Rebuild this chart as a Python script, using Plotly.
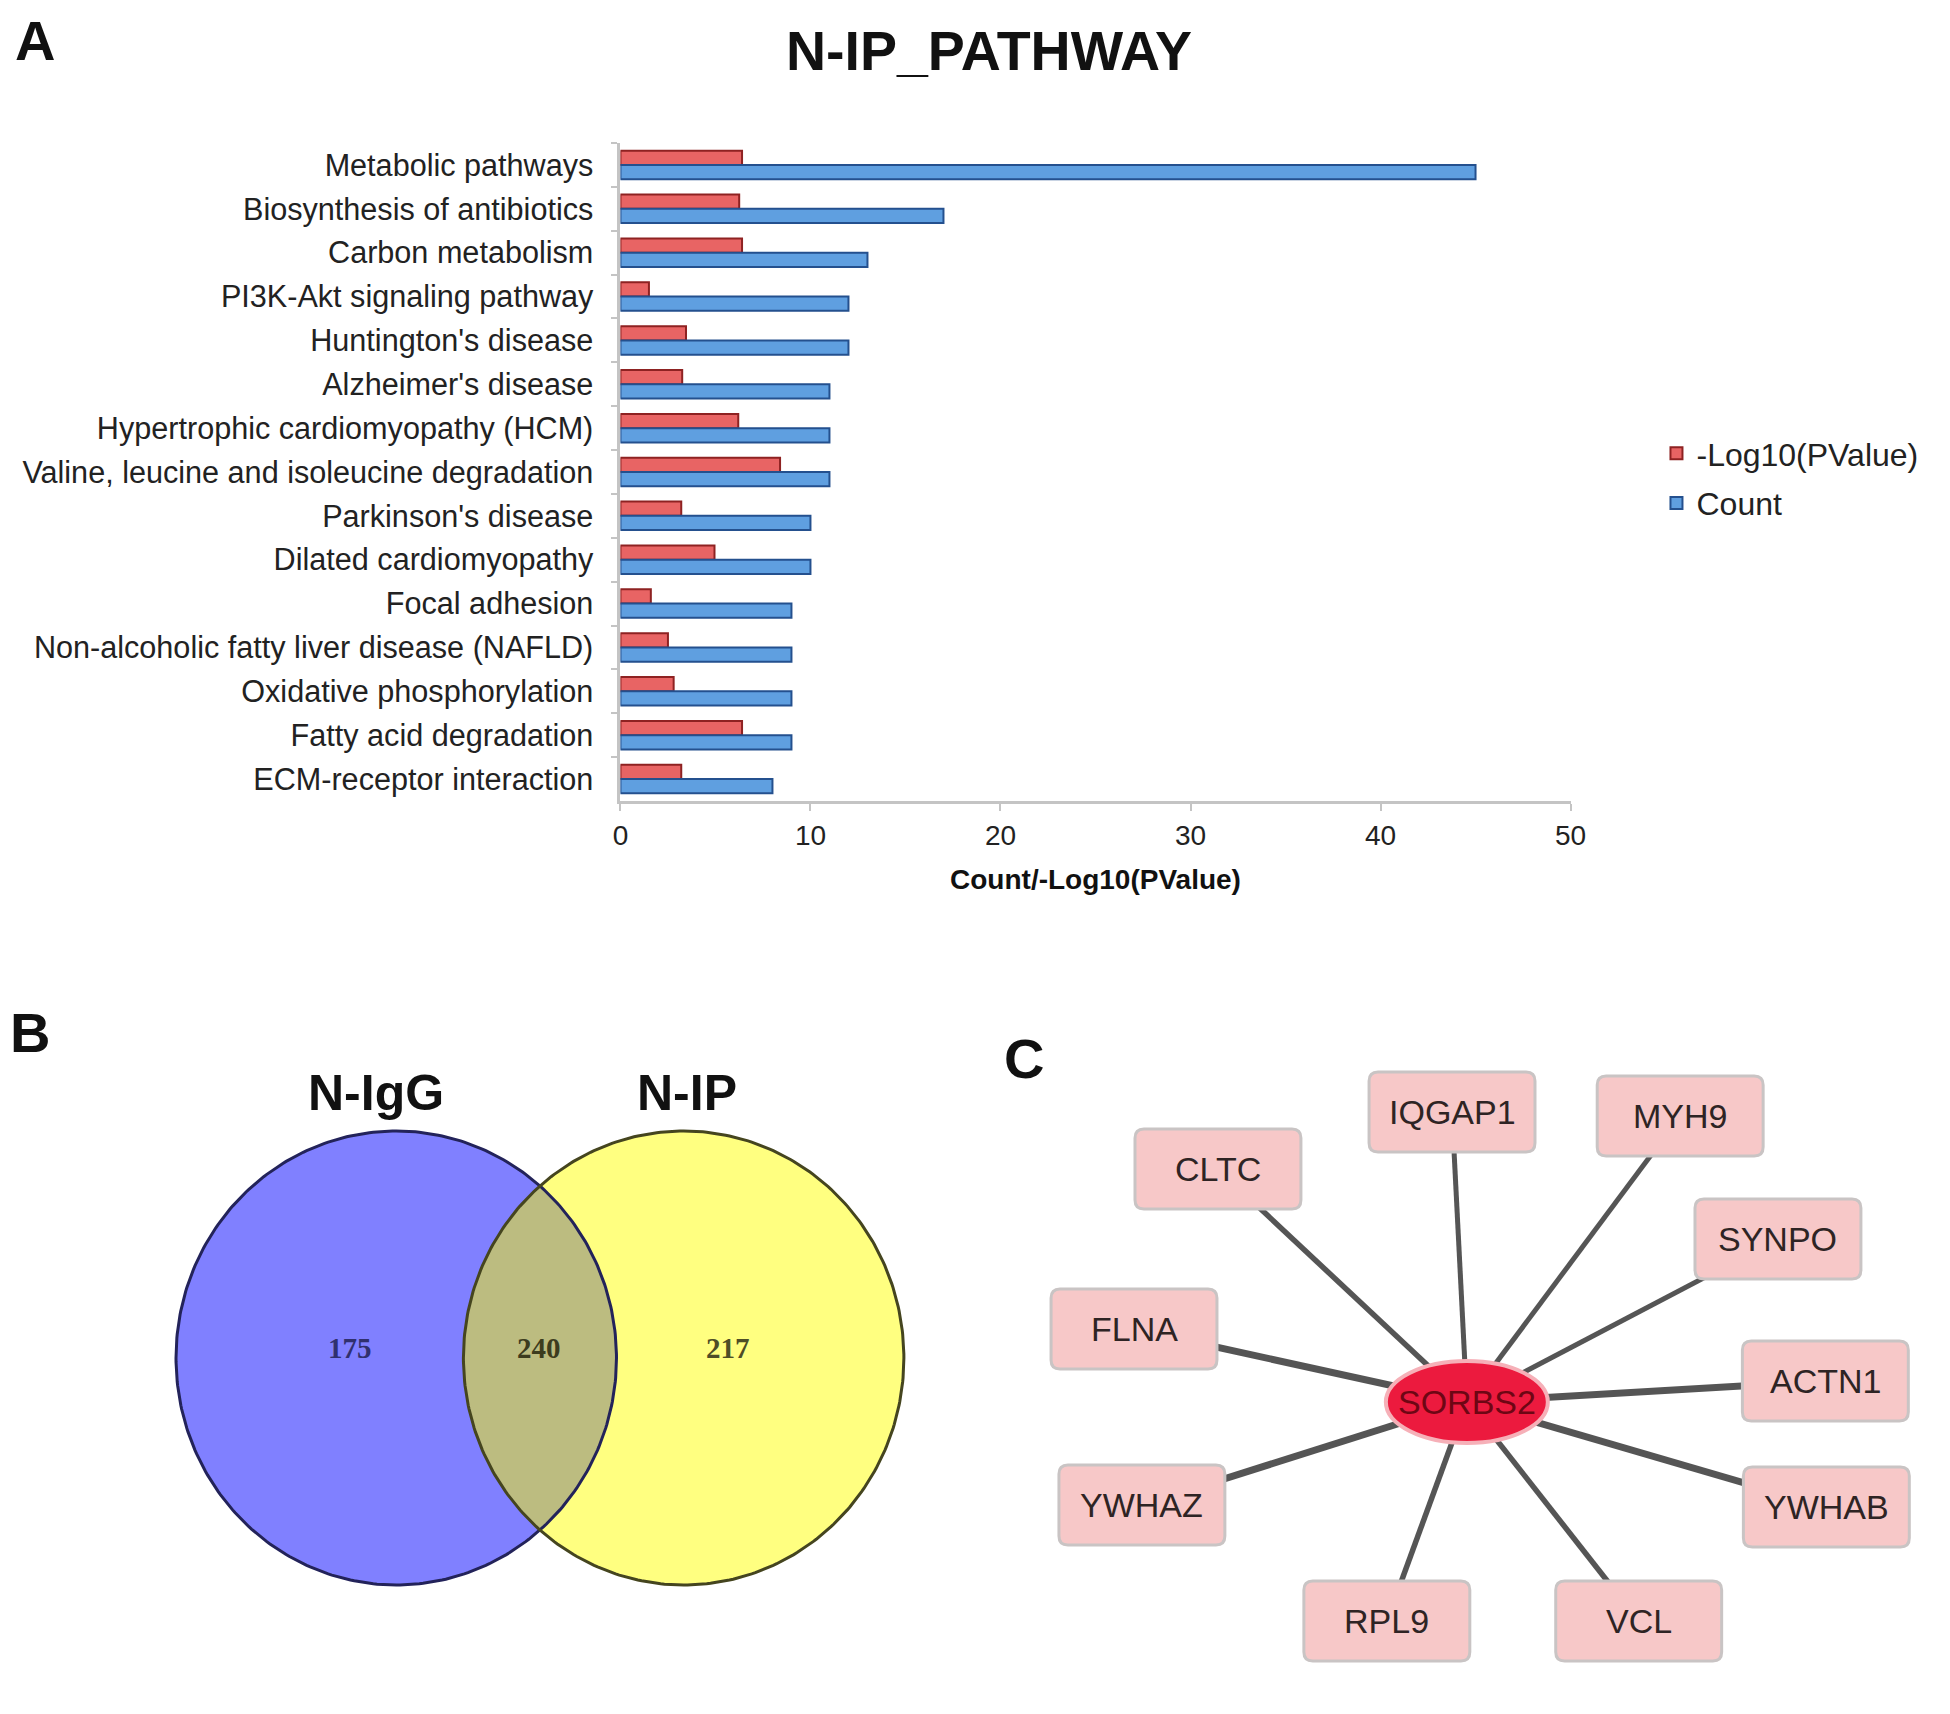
import numpy as np
import plotly.graph_objects as go

# ---------------- data ----------------
pathways = [
    "Metabolic pathways", "Biosynthesis of antibiotics", "Carbon metabolism",
    "PI3K-Akt signaling pathway", "Huntington's disease", "Alzheimer's disease",
    "Hypertrophic cardiomyopathy (HCM)", "Valine, leucine and isoleucine degradation",
    "Parkinson's disease", "Dilated cardiomyopathy", "Focal adhesion",
    "Non-alcoholic fatty liver disease (NAFLD)", "Oxidative phosphorylation",
    "Fatty acid degradation", "ECM-receptor interaction",
]
neg_log10_p = [6.4, 6.25, 6.4, 1.5, 3.45, 3.25, 6.2, 8.4, 3.2, 4.95, 1.6, 2.5, 2.8, 6.4, 3.2]
counts = [45, 17, 13, 12, 12, 11, 11, 11, 10, 10, 9, 9, 9, 9, 8]
x_ticks = [0, 10, 20, 30, 40, 50]

venn_sets = ["N-IgG", "N-IP"]
venn_counts = [175, 240, 217]  # only N-IgG, shared, only N-IP

hub_gene = "SORBS2"
partner_genes = ["IQGAP1", "MYH9", "CLTC", "SYNPO", "FLNA", "ACTN1",
                 "YWHAZ", "YWHAB", "RPL9", "VCL"]

# ---------------- layout constants (screen pixel positions) ----------------
OFF = 8                      # default page margin of the html body
W, H = 1950 - OFF, 1714 - OFF
FONT = "Liberation Sans, Arial, sans-serif"


def px(x):
    return (x - OFF) / W


def py(y):
    return 1 - (y - OFF) / H


venn_centers = [(393, 1358), (684, 1358)]
venn_r = (223, 227)
venn_fill = ["#8080ff", "#ffff80"]
venn_line = ["#23235a", "#45451f"]
lens_fill = "#bcbc80"
venn_label_pos = [(373, 1093), (687, 1093)]
venn_count_pos = [(346, 1348), (538, 1348), (729, 1348)]
venn_count_col = ["#30306e", "#3c3c1e", "#4e4e26"]

hub_pos = (1477, 1402)
hub_r = (82, 41)
node_pos = {
    "IQGAP1": (1462, 1112), "MYH9": (1693, 1116), "CLTC": (1225, 1169),
    "SYNPO": (1792, 1239), "FLNA": (1140, 1329), "ACTN1": (1840, 1381),
    "YWHAZ": (1148, 1505), "YWHAB": (1841, 1507), "RPL9": (1396, 1621),
    "VCL": (1651, 1621),
}
edge_w = {"IQGAP1": 5, "MYH9": 5, "CLTC": 5.5, "SYNPO": 5, "FLNA": 7,
          "ACTN1": 7, "YWHAZ": 7, "YWHAB": 7, "RPL9": 5.5, "VCL": 5.5}
box_w, box_h, box_rad = 168, 80, 9

fig = go.Figure()

# ---------------- Panel A: bar chart ----------------
fig.add_trace(go.Bar(
    y=pathways, x=neg_log10_p, orientation="h", name="-Log10(PValue)",
    marker=dict(color="#e86464", line=dict(color="#8e2222", width=2)),
    legendgroup="a", xaxis="x", yaxis="y",
))
fig.add_trace(go.Bar(
    y=pathways, x=counts, orientation="h", name="Count",
    marker=dict(color="#5f9fe0", line=dict(color="#24508e", width=2)),
    legendgroup="b", xaxis="x", yaxis="y",
))

# ---------------- Panel B: Venn ----------------
t = np.linspace(0, 2 * np.pi, 361)
for (cx, cy), fc in zip(venn_centers, venn_fill):
    fig.add_trace(go.Scatter(
        x=cx + venn_r[0] * np.cos(t), y=cy + venn_r[1] * np.sin(t),
        mode="lines", fill="toself", fillcolor=fc,
        line=dict(color=fc, width=0), showlegend=False, hoverinfo="skip",
        xaxis="x2", yaxis="y2",
    ))
(c1x, c1y), (c2x, c2y) = venn_centers
tb = np.linspace(-np.pi, np.pi, 2001)
bx, by = c1x + venn_r[0] * np.cos(tb), c1y + venn_r[1] * np.sin(tb)
mb = ((bx - c2x) / venn_r[0]) ** 2 + ((by - c2y) / venn_r[1]) ** 2 <= 1
ty = np.linspace(0, 2 * np.pi, 2001)
yx, yy = c2x + venn_r[0] * np.cos(ty), c2y + venn_r[1] * np.sin(ty)
my = ((yx - c1x) / venn_r[0]) ** 2 + ((yy - c1y) / venn_r[1]) ** 2 <= 1
fig.add_trace(go.Scatter(
    x=np.concatenate([bx[mb], yx[my]]), y=np.concatenate([by[mb], yy[my]]),
    mode="lines", fill="toself", fillcolor=lens_fill,
    line=dict(color=lens_fill, width=0), showlegend=False, hoverinfo="skip",
    xaxis="x2", yaxis="y2",
))
for (cx, cy), lc in zip(venn_centers, venn_line):
    fig.add_trace(go.Scatter(
        x=cx + venn_r[0] * np.cos(t), y=cy + venn_r[1] * np.sin(t),
        mode="lines", line=dict(color=lc, width=3), showlegend=False,
        hoverinfo="skip", xaxis="x2", yaxis="y2",
    ))

# ---------------- Panel C: network edges ----------------
for g in partner_genes:
    nx, ny = node_pos[g]
    fig.add_trace(go.Scatter(
        x=[hub_pos[0], nx], y=[hub_pos[1], ny], mode="lines",
        line=dict(color="#555555", width=edge_w[g]), showlegend=False,
        hoverinfo="skip", xaxis="x2", yaxis="y2",
    ))

shapes = []
annotations = []


def rounded_box(cx, cy, w, h, r):
    x0, x1, y0, y1 = cx - w / 2, cx + w / 2, cy - h / 2, cy + h / 2
    return (f"M {x0 + r},{y0} L {x1 - r},{y0} Q {x1},{y0} {x1},{y0 + r} "
            f"L {x1},{y1 - r} Q {x1},{y1} {x1 - r},{y1} L {x0 + r},{y1} "
            f"Q {x0},{y1} {x0},{y1 - r} L {x0},{y0 + r} Q {x0},{y0} {x0 + r},{y0} Z")


for g in partner_genes:
    nx, ny = node_pos[g]
    shapes.append(dict(type="path", xref="x2", yref="y2", layer="above",
                       path=rounded_box(nx, ny, box_w, box_h, box_rad),
                       fillcolor="#f7c8c8", line=dict(color="#c9c4c4", width=3)))
    annotations.append(dict(x=nx, y=ny, xref="x2", yref="y2", text=g,
                            showarrow=False, font=dict(family=FONT, size=34, color="#2e2424")))

shapes.append(dict(type="circle", xref="x2", yref="y2", layer="above",
                   x0=hub_pos[0] - hub_r[0], x1=hub_pos[0] + hub_r[0],
                   y0=hub_pos[1] - hub_r[1], y1=hub_pos[1] + hub_r[1],
                   fillcolor="#ec1a3e", line=dict(color="#f6b0b8", width=4)))
annotations.append(dict(x=hub_pos[0], y=hub_pos[1], xref="x2", yref="y2", text=hub_gene,
                        showarrow=False, font=dict(family=FONT, size=34, color="#6e0614")))

for name, (lx, ly) in zip(venn_sets, venn_label_pos):
    annotations.append(dict(x=lx, y=ly, xref="x2", yref="y2", text=f"<b>{name}</b>",
                            showarrow=False, font=dict(family=FONT, size=50, color="#111")))
for val, (lx, ly), col in zip(venn_counts, venn_count_pos, venn_count_col):
    annotations.append(dict(x=lx, y=ly, xref="x2", yref="y2", text=f"<b>{val}</b>",
                            showarrow=False,
                            font=dict(family="Liberation Serif, Times New Roman, serif",
                                      size=29, color=col)))

for letter, (lx, ly) in zip(["A", "B", "C"], [(27, 40), (22, 1032), (1029, 1058)]):
    annotations.append(dict(x=lx, y=ly, xref="x2", yref="y2", text=f"<b>{letter}</b>",
                            showarrow=False, font=dict(family=FONT, size=56, color="#111")))

# bar chart plotting area (screen pixels)
bx0, bx1, by0, by1 = 620, 1582, 143, 801

fig.update_layout(
    width=W, height=H, margin=dict(l=0, r=0, t=0, b=0),
    paper_bgcolor="white", plot_bgcolor="rgba(0,0,0,0)",
    font=dict(family=FONT, color="#222"),
    title=dict(text="<b>N-IP_PATHWAY</b>", x=px(989), y=py(51),
               xanchor="center", yanchor="middle",
               font=dict(family=FONT, size=55.5, color="#111")),
    barmode="group", bargap=0.35, bargroupgap=0.0,
    xaxis=dict(domain=[px(bx0), px(bx1)], range=[0, 50], tickvals=x_ticks,
               showgrid=False, zeroline=False, showline=True, linecolor="#c4c4c4",
               linewidth=3, ticks="outside", ticklen=7, tickcolor="#c4c4c4",
               tickwidth=2, tickfont=dict(size=28, color="#222"),
               title=dict(text="<b>Count/-Log10(PValue)</b>", standoff=20,
                          font=dict(size=28, color="#111")),
               anchor="y", fixedrange=True),
    yaxis=dict(domain=[py(by1), py(by0)], autorange="reversed",
               showgrid=False, zeroline=False, showline=True, linecolor="#c4c4c4",
               linewidth=3, ticks="outside", ticklen=6, tickcolor="#c4c4c4",
               tickwidth=2, tickson="boundaries", ticklabelstandoff=18,
               tickfont=dict(size=30.6, color="#222"), anchor="x", fixedrange=True),
    xaxis2=dict(domain=[0, 1], range=[OFF, OFF + W], visible=False, anchor="y2",
                fixedrange=True),
    yaxis2=dict(domain=[0, 1], range=[OFF + H, OFF], visible=False, anchor="x2",
                fixedrange=True),
    legend=dict(x=px(1669), y=py(426), xanchor="left", yanchor="top",
                font=dict(size=32, color="#222"), tracegroupgap=5,
                itemwidth=30, bgcolor="rgba(0,0,0,0)"),
    shapes=shapes, annotations=annotations,
)

fig.write_html("out.html")
